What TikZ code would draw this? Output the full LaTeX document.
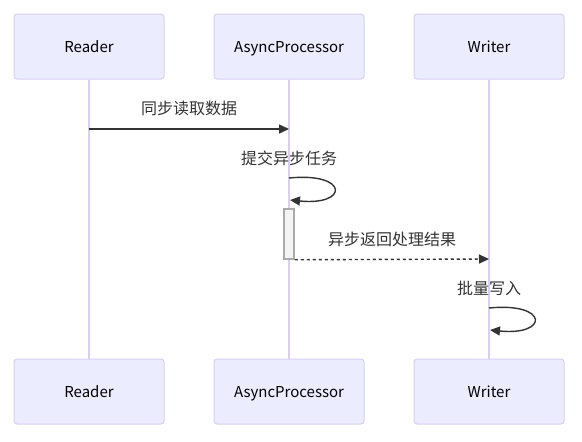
\documentclass[tikz,border=0pt]{standalone}
\usepackage{fontspec}
\setmainfont{Noto Sans CJK SC}
\usetikzlibrary{arrows.meta}
\definecolor{actfill}{HTML}{ECECFF}
\definecolor{actline}{HTML}{DACEF3}
\definecolor{txt}{HTML}{333333}
\definecolor{actvfill}{HTML}{F4F4F4}
\definecolor{actvline}{HTML}{AAAAAA}
\tikzset{
  actor/.style={draw=actline, fill=actfill, rounded corners=3pt, minimum width=150pt, minimum height=65pt, line width=1pt, font=\fontsize{15}{18}\selectfont, text=black, inner sep=0pt, text height=13pt, text depth=1pt},
  lifeline/.style={draw=actline, line width=1.3pt},
  msg/.style={draw=txt, line width=1.4pt, -{Triangle[length=10pt,width=9pt]}},
  msgdot/.style={msg, dash pattern=on 3pt off 3pt},
  lbl/.style={font=\fontsize{16}{19}\selectfont, text=txt, inner sep=0pt},
  activation/.style={draw=actvline, fill=actvfill, line width=1.5pt}
}
\begin{document}
\begin{tikzpicture}[x=1pt,y=-1pt]
\useasboundingbox (0,0) rectangle (582,442);
% actors top
\node[actor] (rt) at (89,46.5) {Reader};
\node[actor] (at) at (289,46.5) {AsyncProcessor};
\node[actor] (wt) at (489,46.5) {Writer};
% actors bottom
\node[actor] (rb) at (89,391.5) {Reader};
\node[actor] (ab) at (289,391.5) {AsyncProcessor};
\node[actor] (wb) at (489,391.5) {Writer};
% lifelines
\draw[lifeline] (rt.south) -- (rb.north);
\draw[lifeline] (at.south) -- (ab.north);
\draw[lifeline] (wt.south) -- (wb.north);
% message 1
\coordinate (m1s) at (89,129);
\coordinate (m1e) at (289,129);
\node[lbl] (l1) at (189,108) {同步读取数据};
\draw[msg] (m1s) -- (m1e);
% self message 1
\node[lbl] (l2) at (289,158) {提交异步任务};
\coordinate (s1a) at (289,178);
\coordinate (s1b) at (290,200);
\draw[msg] (s1a) .. controls (349,172) and (349,206) .. (s1b);
% activation
\node[activation, minimum width=10pt, minimum height=50pt, inner sep=0pt] (act) at (289,234) {};
% message 2
\node[lbl] (l3) at (392,239) {异步返回处理结果};
\coordinate (m2e) at (489,259);
\draw[msgdot] (act.south east) -- (m2e);
% self message 2
\node[lbl] (l4) at (489,288) {批量写入};
\coordinate (s2a) at (489,308);
\coordinate (s2b) at (490,330);
\draw[msg] (s2a) .. controls (549,302) and (549,336) .. (s2b);
\end{tikzpicture}
\end{document}
